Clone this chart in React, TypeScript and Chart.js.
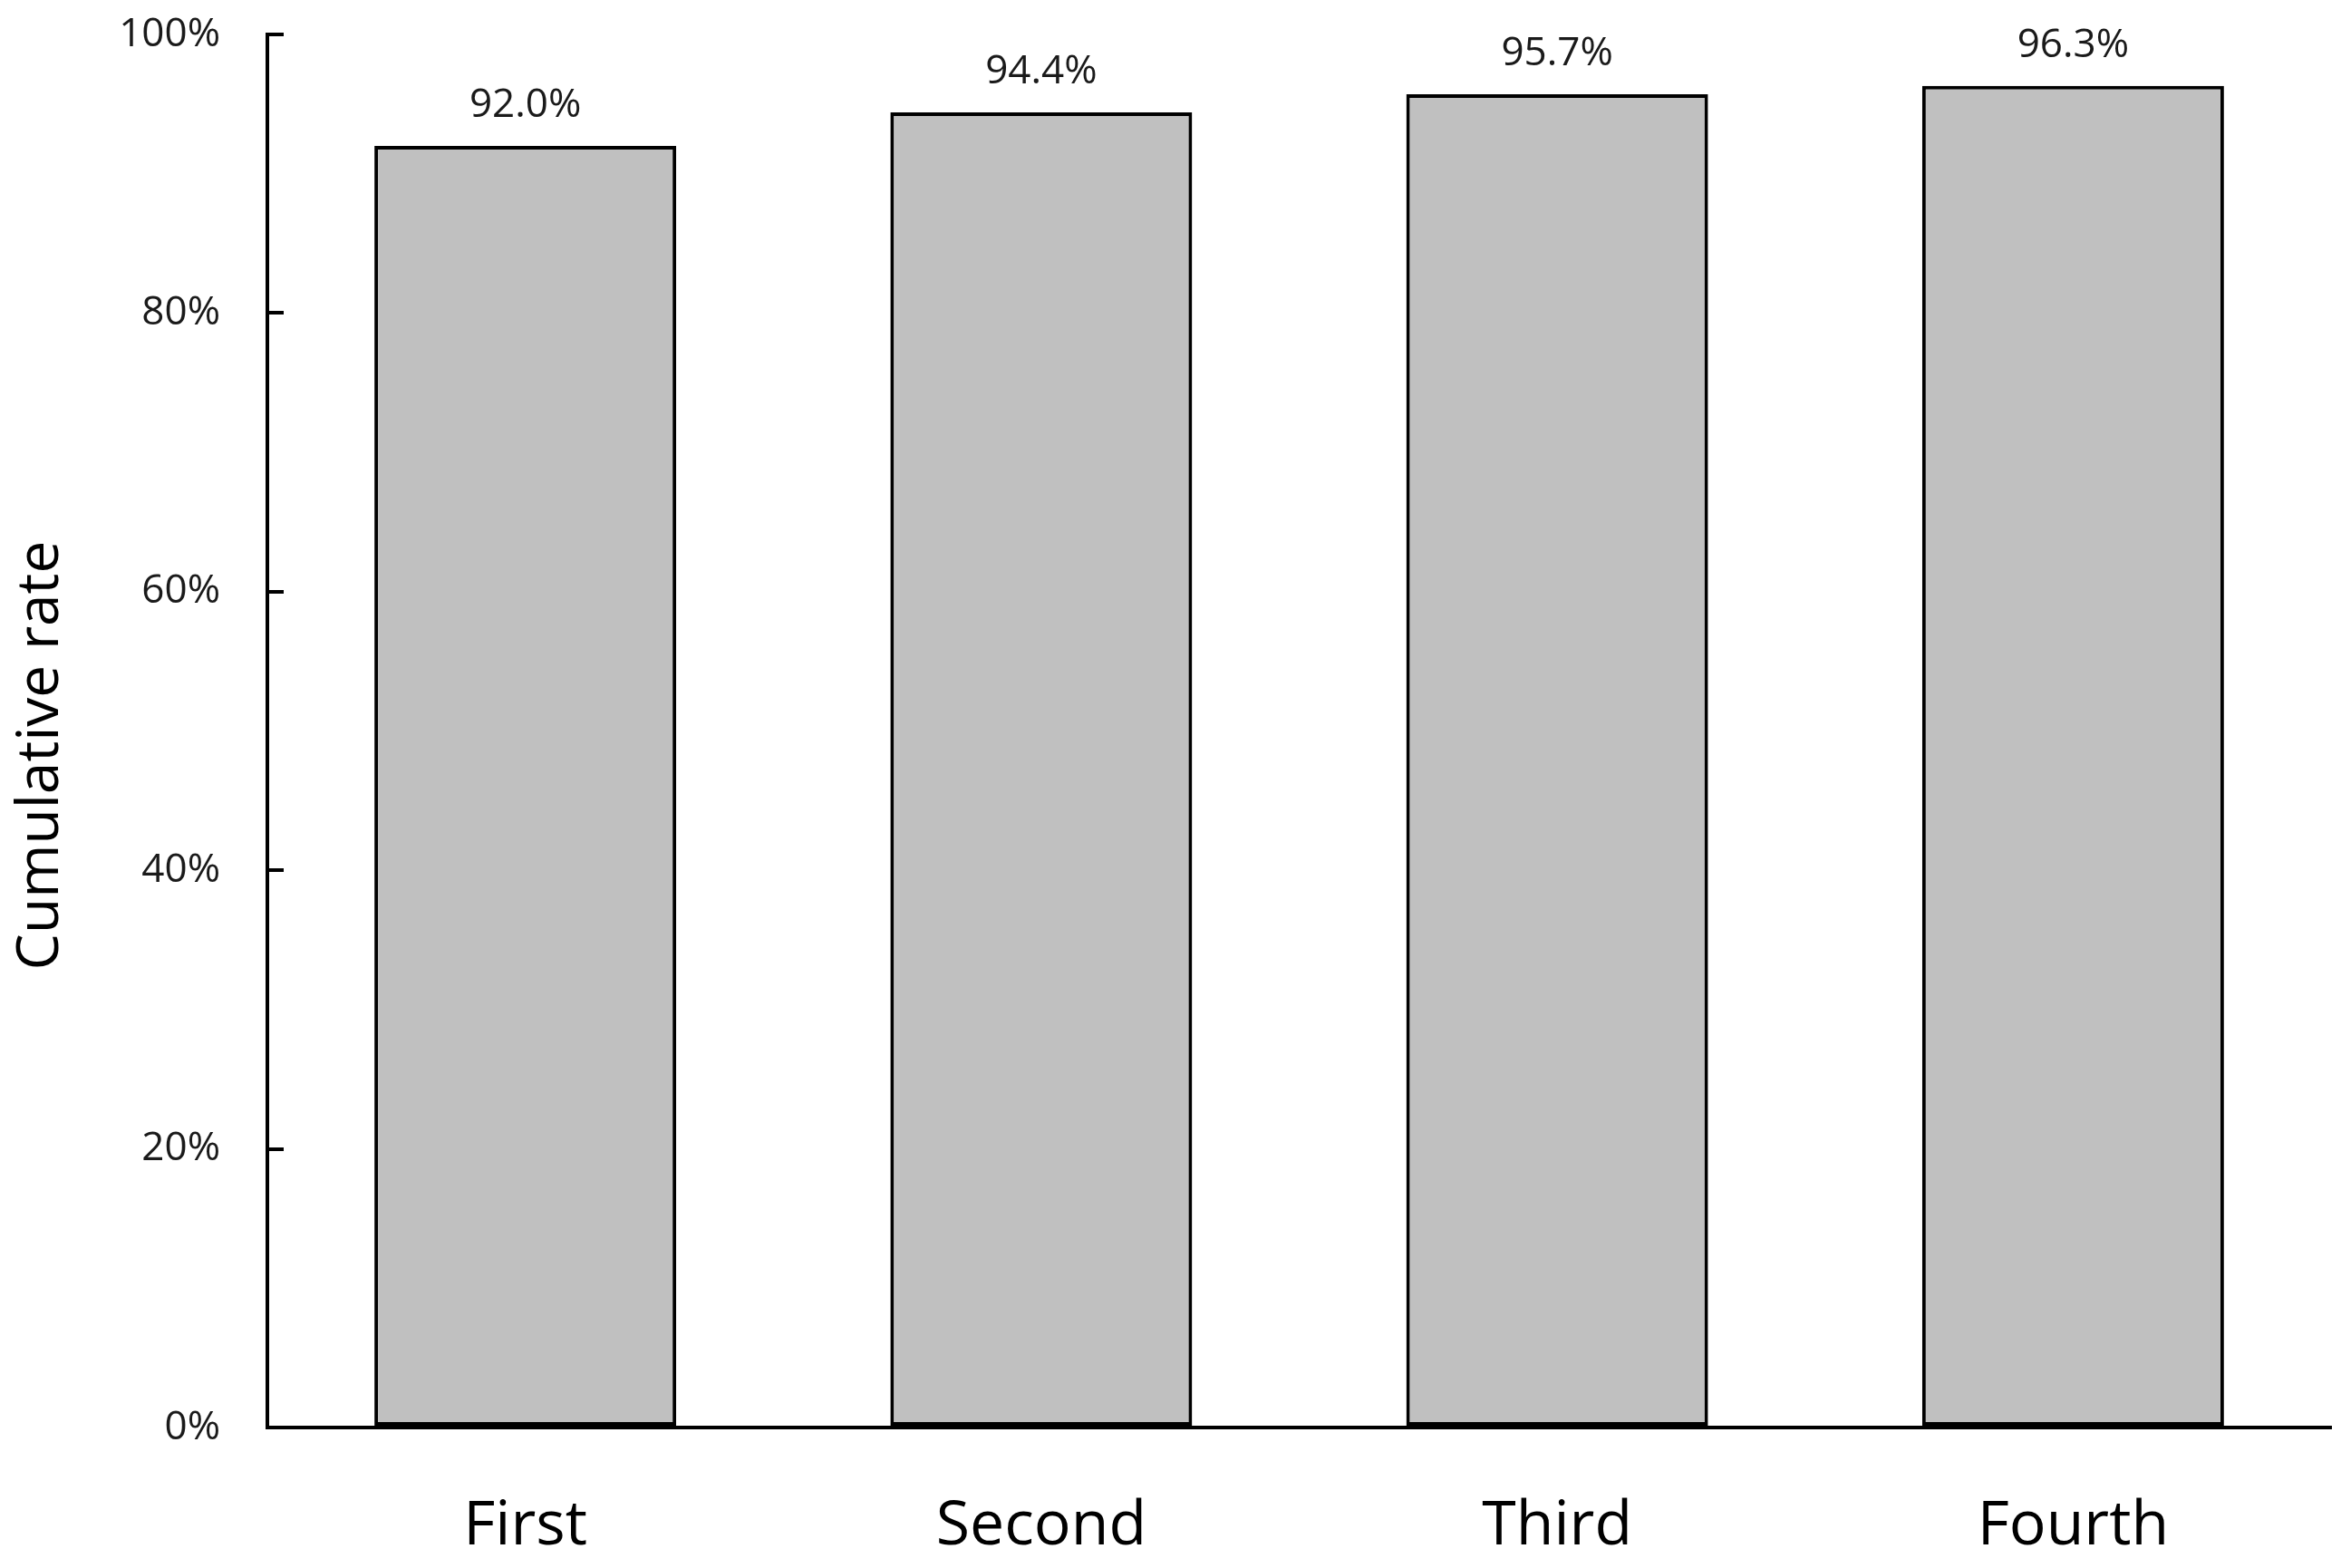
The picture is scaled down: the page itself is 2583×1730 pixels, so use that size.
import React, { useEffect, useRef } from "react";
import { Chart, registerables } from "chart.js";

Chart.register(...registerables);

const categories: string[] = ["First", "Second", "Third", "Fourth"];
const cumulativeRate: number[] = [92.0, 94.4, 95.7, 96.3];
const yTickValues: number[] = [0, 20, 40, 60, 80, 100];
const yAxisTitle = "Cumulative rate";

const FONT = "'Open Sans', 'Noto Sans', sans-serif";

const valueLabelPlugin = {
  id: "valueLabels",
  afterDatasetsDraw(chart: any) {
    const ctx = chart.ctx;
    const meta = chart.getDatasetMeta(0);
    ctx.save();
    ctx.font = `44px ${FONT}`;
    ctx.fillStyle = "#1a1a1a";
    ctx.textAlign = "center";
    ctx.textBaseline = "alphabetic";
    meta.data.forEach((bar: any, i: number) => {
      const v = chart.data.datasets[0].data[i] as number;
      ctx.fillText(v.toFixed(1) + "%", bar.x, bar.y - 32);
    });
    ctx.restore();
  },
};

const yTitlePlugin = {
  id: "yTitle",
  afterDraw(chart: any) {
    const ctx = chart.ctx;
    const y = chart.scales.y;
    ctx.save();
    ctx.font = `64px ${FONT}`;
    ctx.fillStyle = "#000000";
    ctx.textAlign = "center";
    ctx.textBaseline = "middle";
    ctx.translate(y.left + 46, (y.top + y.bottom) / 2 + 27);
    ctx.rotate(-Math.PI / 2);
    ctx.fillText(yAxisTitle, 0, 0);
    ctx.restore();
  },
};

export default function App() {
  const canvasRef = useRef<HTMLCanvasElement | null>(null);

  useEffect(() => {
    if (!canvasRef.current) return;
    const chart = new Chart(canvasRef.current, {
      type: "bar",
      data: {
        labels: categories,
        datasets: [
          {
            data: cumulativeRate,
            backgroundColor: "#c0c0c0",
            borderColor: "#000000",
            borderWidth: 4,
            borderSkipped: false,
            barPercentage: 0.585,
            categoryPercentage: 1,
          },
        ],
      },
      options: {
        responsive: false,
        animation: false,
        devicePixelRatio: 1,
        layout: { padding: { top: 38, right: 11, bottom: 0, left: 0 } },
        plugins: {
          legend: { display: false },
          tooltip: { enabled: false },
          title: { display: false },
        },
        scales: {
          x: {
            grid: { display: false, drawTicks: false },
            border: { display: true, color: "#000000", width: 4 },
            ticks: {
              color: "#000000",
              font: { family: FONT, size: 68 },
              padding: 69,
              maxRotation: 0,
            },
            afterFit: (scale: any) => {
              scale.height = 155;
              scale.paddingLeft = 0;
              scale.paddingRight = 0;
            },
          },
          y: {
            min: 0,
            max: 100,
            afterBuildTicks: (scale: any) => {
              scale.ticks = yTickValues.map((v) => ({ value: v }));
            },
            grid: {
              display: true,
              drawOnChartArea: false,
              drawTicks: true,
              tickLength: -18,
              color: "#000000",
              lineWidth: 4,
            },
            border: { display: true, color: "#000000", width: 4 },
            ticks: {
              color: "#1a1a1a",
              font: { family: FONT, size: 44 },
              padding: 70,
              callback: (v: any) => `${v}%`,
            },
            title: { display: false },
            afterFit: (scale: any) => {
              scale.width = 295;
              scale.paddingTop = 0;
              scale.paddingBottom = 0;
            },
          },
        },
      },
      plugins: [valueLabelPlugin, yTitlePlugin],
    });
    return () => chart.destroy();
  }, []);

  return (
    <div style={{ position: "fixed", left: 0, top: 0, width: 2583, height: 1730, background: "#ffffff" }}>
      <canvas ref={canvasRef} width={2583} height={1730} style={{ display: "block" }} />
    </div>
  );
}
